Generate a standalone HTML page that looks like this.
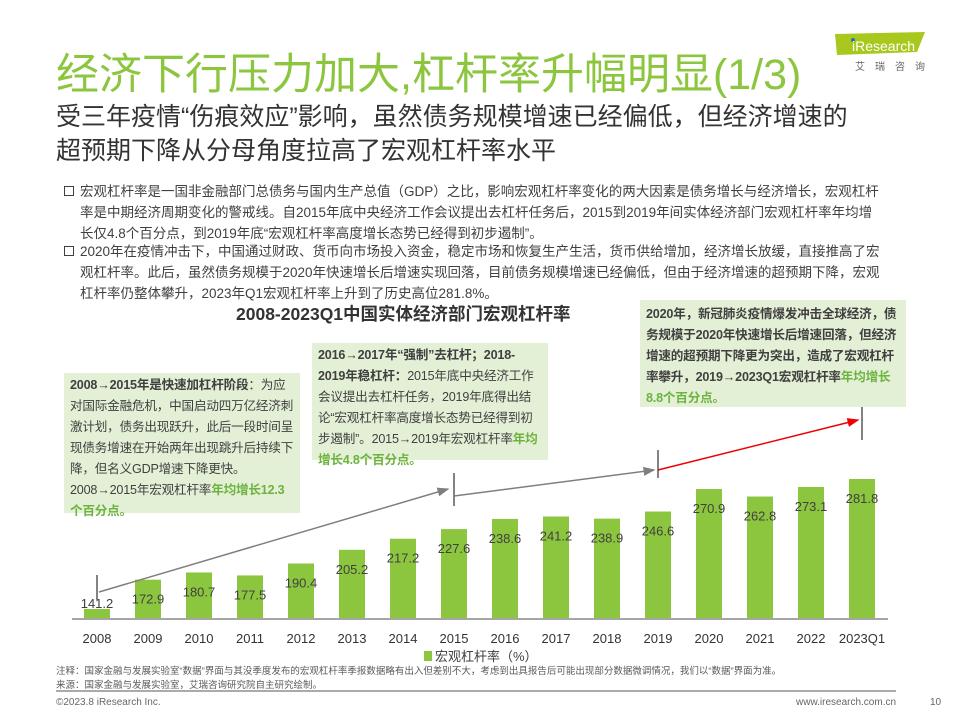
<!DOCTYPE html>
<html><head><meta charset="utf-8">
<style>
body{margin:0;width:960px;height:720px;background:#fff;position:relative;overflow:hidden;font-family:"Liberation Sans","Noto Sans CJK SC",sans-serif;color:#404040}
.abs{position:absolute}
.title{left:56px;top:40px;font-size:43px;color:#8cc63f;white-space:nowrap}
.sub{left:56px;top:100px;font-size:25px;line-height:34px;color:#333;width:808px}
.bul{left:64px;font-size:13.5px;line-height:21px;width:818px;color:#404040}
.bul .sq{position:absolute;left:0;top:5px;width:8px;height:8px;border:1.5px solid #404040}
.bul p{margin:0 0 0 16px}
.box{background:#e3f0d6;font-size:12.6px;line-height:21px;color:#404040;padding:2px 6px;box-sizing:border-box;letter-spacing:-0.2px}
.g{color:#6db33f;font-weight:bold}
b{color:#404040}
</style></head><body>
<div class="abs title">经济下行压力加大,杠杆率升幅明显(1/3)</div>
<div class="abs" style="left:825px;top:30px;width:100px;height:42px">
<svg width="100" height="42"><polygon points="10,4 100,2 92,22 12,25" fill="#a8c81e"/><circle cx="28" cy="10" r="2" fill="#2a6fb5"/><text x="27" y="21" font-size="14" fill="#fff" font-family="Liberation Sans">iResearch</text>
<text x="30" y="40" font-size="10" fill="#666" letter-spacing="10" font-family="Noto Sans CJK SC">艾瑞咨询</text></svg></div>
<div class="abs sub">受三年疫情“伤痕效应”影响，虽然债务规模增速已经偏低，但经济增速的超预期下降从分母角度拉高了宏观杠杆率水平</div>
<div class="abs bul" style="top:181px"><span class="sq"></span><p>宏观杠杆率是一国非金融部门总债务与国内生产总值（GDP）之比，影响宏观杠杆率变化的两大因素是债务增长与经济增长，宏观杠杆率是中期经济周期变化的警戒线。自2015年底中央经济工作会议提出去杠杆任务后，2015到2019年间实体经济部门宏观杠杆率年均增长仅4.8个百分点，到2019年底“宏观杠杆率高度增长态势已经得到初步遏制”。</p></div>
<div class="abs bul" style="top:241px"><span class="sq"></span><p>2020年在疫情冲击下，中国通过财政、货币向市场投入资金，稳定市场和恢复生产生活，货币供给增加，经济增长放缓，直接推高了宏观杠杆率。此后，虽然债务规模于2020年快速增长后增速实现回落，目前债务规模增速已经偏低，但由于经济增速的超预期下降，宏观杠杆率仍整体攀升，2023年Q1宏观杠杆率上升到了历史高位281.8%。</p></div>
<div class="abs" style="left:236px;top:301px;font-size:17.5px;font-weight:bold;color:#333">2008-2023Q1中国实体经济部门宏观杠杆率</div>

<svg class="abs" style="left:0;top:0" width="960" height="720" id="chart"></svg>

<div class="abs box" style="left:64px;top:373px;width:236px;height:140px"><b style="font-weight:bold">2008→2015年是快速加杠杆阶段</b>：为应对国际金融危机，中国启动四万亿经济刺激计划，债务出现跃升，此后一段时间呈现债务增速在开始两年出现跳升后持续下降，但名义GDP增速下降更快。2008→2015年宏观杠杆率<span class="g">年均增长12.3个百分点。</span></div>
<div class="abs box" style="left:312px;top:343px;width:236px;height:117px"><b style="font-weight:bold">2016→2017年“强制”去杠杆；2018-2019年稳杠杆：</b>2015年底中央经济工作会议提出去杠杆任务，2019年底得出结论“宏观杠杆率高度增长态势已经得到初步遏制”。2015→2019年宏观杠杆率<span class="g">年均增长4.8个百分点。</span></div>
<div class="abs box" style="left:640px;top:300px;width:266px;height:107px;font-weight:bold;padding-top:4px">2020年，新冠肺炎疫情爆发冲击全球经济，债务规模于2020年快速增长后增速回落，但经济增速的超预期下降更为突出，造成了宏观杠杆率攀升，2019→2023Q1宏观杠杆率<span class="g">年均增长8.8个百分点。</span></div>

<div class="abs" style="left:424px;top:646px;font-size:13px;color:#404040"><span style="display:inline-block;width:8px;height:10px;background:#8cc63f;margin-right:3px"></span>宏观杠杆率（%）</div>
<div class="abs" style="left:56px;top:665px;font-size:9.5px;line-height:14px;color:#595959">注释：国家金融与发展实验室“数据”界面与其没季度发布的宏观杠杆率季报数据略有出入但差别不大，考虑到出具报告后可能出现部分数据微调情况，我们以“数据”界面为准。<br>来源：国家金融与发展实验室，艾瑞咨询研究院自主研究绘制。</div>
<div class="abs" style="left:56px;top:690px;width:840px;height:2px;background:#aaa"></div>
<div class="abs" style="left:56px;top:697px;font-size:10px;color:#666">©2023.8 iResearch Inc.</div>
<div class="abs" style="left:796px;top:697px;font-size:10px;color:#666">www.iresearch.com.cn</div>
<div class="abs" style="left:930px;top:697px;font-size:10px;color:#666">10</div>

<script>
const categories=["2008","2009","2010","2011","2012","2013","2014","2015","2016","2017","2018","2019","2020","2021","2022","2023Q1"];
const values=[141.2,172.9,180.7,177.5,190.4,205.2,217.2,227.6,238.6,241.2,238.9,246.6,270.9,262.8,273.1,281.8];
const svg=document.getElementById('chart');
const NS='http://www.w3.org/2000/svg';
const base=619, x0=97, step=51, bw=26, v0=130.4, k=0.925;
const xs=i=>x0+i*step;
const ys=v=>base-(v-v0)*k;
function mk(t,a){const e=document.createElementNS(NS,t);for(const n in a)e.setAttribute(n,a[n]);svg.appendChild(e);return e;}
values.forEach((v,i)=>{
 const r=mk('rect',{x:xs(i)-bw/2,y:ys(v),width:bw,height:base-ys(v),fill:'#8cc63f'});
 
 
 const t=mk('text',{x:xs(i),y:Math.min(ys(v)+24,608),'text-anchor':'middle','font-size':13,fill:'#404040'});
 t.textContent=v.toFixed(1);
 
 
 const c=mk('text',{x:xs(i),y:643,'text-anchor':'middle','font-size':13,fill:'#333'});
 c.textContent=categories[i];
 
 
});
const ax=mk('line',{x1:72,x2:888,y1:base,y2:base,stroke:'#a6a6a6','stroke-width':2});


const defs=mk('defs',{});
defs.innerHTML='<marker id="ag" markerWidth="8" markerHeight="8" refX="7" refY="4" orient="auto"><path d="M0,1 L8,4 L0,7z" fill="#7f7f7f"/></marker><marker id="ar" markerWidth="8" markerHeight="8" refX="7" refY="4" orient="auto"><path d="M0,1 L8,4 L0,7z" fill="#e00"/></marker>';
function tick(x,y1,y2){const l=mk('line',{x1:x,x2:x,y1:y1,y2:y2,stroke:'#404040','stroke-width':1.3});}
tick(xs(0),575,600);tick(xs(7),473,506);tick(xs(11),450,478);tick(xs(15),406,440);
let a=mk('line',{x1:xs(0)+2,y1:592,x2:xs(7)-6,y2:489,stroke:'#7f7f7f','stroke-width':1.5,'marker-end':'url(#ag)'});
a=mk('line',{x1:xs(7),y1:496,x2:xs(11)-4,y2:470,stroke:'#7f7f7f','stroke-width':1.5,'marker-end':'url(#ag)'});
a=mk('line',{x1:xs(11),y1:470,x2:xs(15)-4,y2:420,stroke:'#e00','stroke-width':1.5,'marker-end':'url(#ar)'});
</script>
</body></html>
